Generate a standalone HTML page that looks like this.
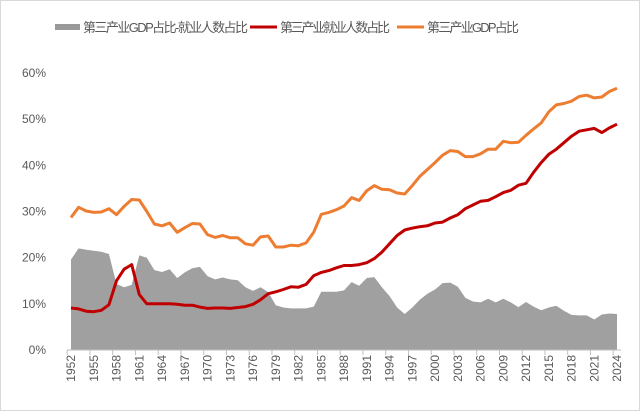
<!DOCTYPE html>
<html><head><meta charset="utf-8"><style>
body{margin:0;background:#fff}
svg{display:block;font-family:"Liberation Sans","Noto Sans CJK SC",sans-serif}
</style></head><body>
<svg id="chart" width="640" height="411">
<rect x="0.5" y="0.5" width="639" height="410" fill="#fff" stroke="#d9d9d9"/>
<g>
<g><rect x="55" y="24" width="25" height="6" fill="#999"/><text x="83" y="32" font-size="13" fill="#595959" textLength="165">第三产业GDP占比-就业人数占比</text></g>
<g><line x1="250" y1="27" x2="277" y2="27" stroke="#c00000" stroke-width="3"/><text x="280" y="32" font-size="13" fill="#595959" textLength="110">第三产业就业人数占比</text></g>
<g><line x1="397" y1="27" x2="424" y2="27" stroke="#ed7d31" stroke-width="3"/><text x="427" y="32" font-size="13" fill="#595959" textLength="92">第三产业GDP占比</text></g>
</g>
<g id="yaxis"></g>
<g id="plot"></g>
<g id="xaxis"></g>
</svg>
<script>
const years=[];for(let y=1952;y<=2024;y++)years.push(y);
const employment=[9.1,8.9,8.4,8.3,8.6,9.8,15,17.5,18.5,12,10,10,10,10,9.9,9.7,9.7,9.3,9.0,9.1,9.1,9.0,9.2,9.4,9.9,10.9,12.2,12.6,13.1,13.7,13.6,14.2,16.1,16.8,17.2,17.8,18.3,18.3,18.5,18.9,19.8,21.2,23,24.8,26,26.4,26.7,26.9,27.5,27.7,28.6,29.3,30.6,31.4,32.2,32.4,33.2,34.1,34.6,35.7,36.1,38.5,40.6,42.4,43.5,44.9,46.3,47.4,47.7,48.0,47.1,48.1,48.9];
const gdpShare=[28.7,30.9,30.1,29.8,29.9,30.6,29.3,31.1,32.6,32.5,30,27.3,26.9,27.5,25.5,26.5,27.4,27.3,25,24.4,24.8,24.3,24.3,23,22.7,24.5,24.7,22.3,22.3,22.7,22.6,23.2,25.5,29.4,29.8,30.4,31.2,33,32.4,34.5,35.6,34.8,34.7,34.0,33.8,35.6,37.6,39.1,40.6,42.2,43.2,43.0,41.9,41.9,42.5,43.5,43.5,45.2,44.9,45.0,46.5,47.9,49.2,51.6,53.1,53.4,53.9,54.9,55.2,54.6,54.8,56,56.7];
const yTicks=[0,10,20,30,40,50,60];
const NS="http://www.w3.org/2000/svg";
const X0=71,X1=617,Y0=350,Y60=73;
const xs=i=>X0+(X1-X0)*i/(years.length-1);
const ys=v=>Y0-(Y0-Y60)*v/60;
function mk(t,a,p){const e=document.createElementNS(NS,t);for(const k in a)e.setAttribute(k,a[k]);p.appendChild(e);return e;}
const plot=document.getElementById('plot'),ya=document.getElementById('yaxis'),xa=document.getElementById('xaxis');
yTicks.forEach(v=>{const t=mk('text',{x:46,y:ys(v)+4,'text-anchor':'end','font-size':12,fill:'#595959'},ya);t.textContent=v+'%';

});
const gap=gdpShare.map((g,i)=>g-employment[i]);
let d='M'+xs(0)+','+Y0;gap.forEach((v,i)=>d+=' L'+xs(i).toFixed(1)+','+ys(v).toFixed(1));d+=' L'+xs(gap.length-1)+','+Y0+' Z';
const area=mk('path',{d:d,fill:'#a0a0a0'},plot);


function line(arr,c,name){const p=mk('path',{d:'M'+arr.map((v,i)=>xs(i).toFixed(1)+','+ys(v).toFixed(1)).join(' L'),fill:'none',stroke:c,'stroke-width':3,'stroke-linejoin':'round'},plot);

}
line(employment,'#c00000','employment-line');
line(gdpShare,'#ed7d31','gdp-share-line');
mk('line',{x1:67,y1:Y0,x2:621,y2:Y0,stroke:'#bfbfbf'},xa);
years.forEach((y,i)=>{if((y-1952)%3)return;
mk('line',{x1:xs(i)-3.8,y1:Y0,x2:xs(i)-3.8,y2:Y0+5,stroke:'#bfbfbf'},xa);
const t=mk('text',{transform:`translate(${xs(i)+4},${Y0+5}) rotate(-90)`,'text-anchor':'end','font-size':12,fill:'#595959'},xa);t.textContent=y;

});
</script>
</body></html>
